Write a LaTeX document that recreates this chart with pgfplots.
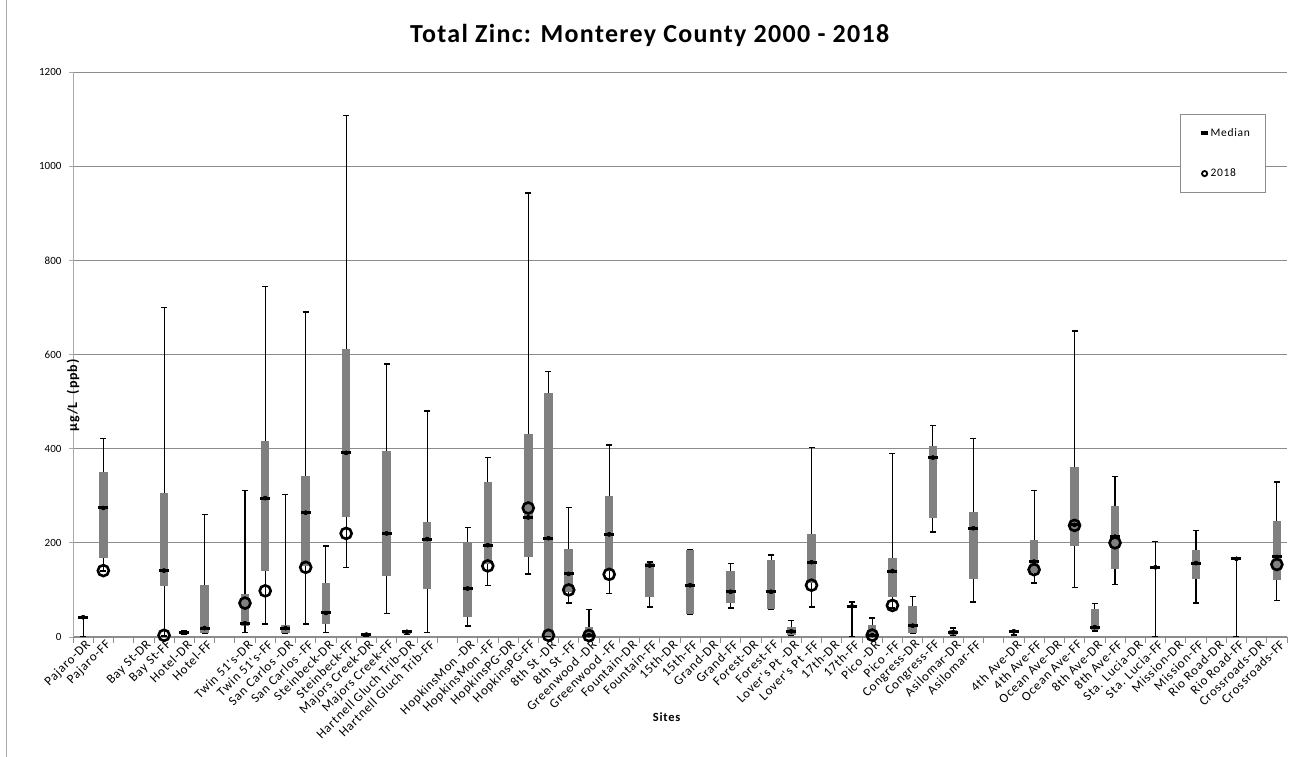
\documentclass[border=0pt]{standalone}
\usepackage{fontspec}
\setmainfont{Carlito}
\newfontfamily\labfont[LetterSpace=6]{Carlito}
\newfontfamily\titlefont[LetterSpace=5]{Carlito}
\usepackage{pgfplots}
\usepackage{pgfplotstable}
\pgfplotsset{compat=1.18}

\definecolor{boxgray}{RGB}{128,128,128}
\definecolor{gridgray}{RGB}{140,140,140}
\definecolor{axisgray}{RGB}{170,170,170}

% x = category slot, lo/hi = whisker ends, q1/q3 = box, y18 = 2018 value
\pgfplotstableread{
x   lo    q1    med   q3    hi     y18
1   0     41    42    42    42     nan
2   140   167   274   350   422    141
5   2     108   141   306   700    3.6
6   5     6     10    13    14     nan
7   8     9     19    110   260    nan
9   9     23    29    92    311    72
10  28    141   295   417   744    98
11  8     9     19    25    303    nan
12  28    150   264   342   690    148
13  9     27    51    115   193    nan
14  148   254   391   611   1107   220
15  2     3     5     7     8      nan
16  50    129   220   394   580    nan
17  6     7     11    13    14     nan
18  9     101   208   245   480    nan
20  23    42    103   202   232    nan
21  110   155   195   330   381    151
23  134   170   254   431   943    274
24  0     2     210   518   564    3.6
25  72    95    134   186   275    100
26  0     1     4     22    58     3
27  92    140   218   299   408    133
29  64    84    152   157   159    nan
31  48    48    110   184   185    nan
33  62    73    96    140   156    nan
35  59    60    96    164   174    nan
36  3     4     12    22    35     nan
37  64    115   159   219   403    110
39  0     65    65    65    74     nan
40  0     1     4     25    40     4
41  62    85    140   168   390    67
42  8     9     24    65    86     nan
43  223   252   381   406   449    nan
44  4     5     10    15    19     nan
45  74    124   231   265   422    nan
47  4     11    12    12    12     nan
48  115   135   160   205   311    143
50  105   194   238   360   650    237
51  13    14    21    60    71     nan
52  111   145   213   278   341    200
54  0     148   148   148   203    nan
56  72    124   157   184   226    nan
58  0     166   166   166   166    nan
60  78    120   170   247   329    154
}\zinc

\begin{document}
\begin{tikzpicture}
\useasboundingbox (0,0) rectangle (1299pt,757pt);
\draw[axisgray, line width=1pt] (6pt,0) -- (6pt,757pt);
\begin{axis}[
  at={(73pt,120pt)}, anchor=south west,
  scale only axis, width=1214pt, height=565pt,
  xmin=0.5, xmax=60.5, ymin=0, ymax=1200,
  axis x line*=bottom, axis y line*=left,
  axis line style={-},
  x axis line style={gridgray, line width=1pt},
  y axis line style={axisgray, line width=1pt},
  ytick={0,200,...,1200},
  ymajorgrids, grid style={gridgray, line width=0.9pt},
  tick align=outside,
  ytick style={axisgray, line width=0.8pt},
  major tick length=4pt,
  xtick={1,...,60},
  major x tick style={draw=none},
  minor xtick={0.5,1.5,...,60.5},
  minor x tick style={gridgray, line width=0.8pt},
  minor tick length=6pt,
  xticklabels={Pajaro-DR,Pajaro-FF,{},Bay St-DR,Bay St-FF,Hotel-DR,Hotel-FF,{},
    Twin 51's-DR,Twin 51's-FF,San Carlos -DR,San Carlos -FF,Steinbeck-DR,Steinbeck-FF,
    Majors Creek-DR,Majors Creek-FF,Hartnell Gluch Trib-DR,Hartnell Gluch Trib-FF,{},
    HopkinsMon -DR,HopkinsMon -FF,HopkinsPG-DR,HopkinsPG-FF,8th St -DR,8th St -FF,
    Greenwood -DR,Greenwood -FF,Fountain-DR,Fountain-FF,15th-DR,15th-FF,Grand-DR,Grand-FF,
    Forest-DR,Forest-FF,Lover's Pt -DR,Lover's Pt -FF,17th-DR,17th-FF,Pico -DR,Pico -FF,
    Congress-DR,Congress-FF,Asilomar-DR,Asilomar-FF,{},4th Ave-DR,4th Ave-FF,
    Ocean Ave-DR,Ocean Ave-FF,8th Ave-DR,8th Ave-FF,Sta. Lucia-DR,Sta. Lucia-FF,
    Mission-DR,Mission-FF,Rio Road-DR,Rio Road-FF,Crossroads-DR,Crossroads-FF},
  xticklabel style={font=\labfont\fontsize{13}{15}\selectfont, rotate=45, anchor=east, xshift=6pt, yshift=-5pt},
  yticklabel style={font=\fontsize{11}{13}\selectfont, xshift=-4pt},
  /pgf/number format/assume math mode=true,
  /pgf/number format/1000 sep={},
  title={\titlefont\bfseries\fontsize{26}{30}\selectfont Total Zinc: Monterey County 2000 - 2018},
  title style={at={(axis description cs:0.475,1)}, anchor=center, yshift=31pt},
  xlabel={\labfont\bfseries\fontsize{12.5}{14}\selectfont Sites},
  xlabel style={at={(axis description cs:0.489,0)}, anchor=center, yshift=-80pt},
  ylabel={\labfont\bfseries\fontsize{14}{16}\selectfont µg/L\ \ (ppb)},
  ylabel style={at={(axis description cs:0,0.5)}, anchor=center, xshift=-41pt},
  legend style={at={(axis description cs:0.912,0.9257)}, anchor=north west,
    draw=gridgray, line width=0.9pt, font=\labfont\fontsize{11.5}{13}\selectfont,
    row sep=27pt, inner xsep=14pt, inner ysep=12pt},
  legend cell align=left,
]
% whiskers (min to max)
\addplot[forget plot, only marks, mark=none,
  error bars/.cd, y dir=both, y explicit, error mark=-,
  error mark options={rotate=90, black, mark size=3pt, line width=1.4pt},
  error bar style={black, line width=1.1pt}]
  table[x=x, y=med, y error plus expr=\thisrow{hi}-\thisrow{med},
        y error minus expr=\thisrow{med}-\thisrow{lo}] {\zinc};
% boxes (q1 to q3)
\addplot[forget plot, only marks, mark=none,
  error bars/.cd, y dir=both, y explicit, error mark=none,
  error bar style={boxgray, line width=8.5pt}]
  table[x=x, y=med, y error plus expr=\thisrow{q3}-\thisrow{med},
        y error minus expr=\thisrow{med}-\thisrow{q1}] {\zinc};
% medians
\addplot[only marks, mark=-, mark size=5pt, mark options={black, line width=3pt},
  legend image code/.code={\path[draw=none, fill=none] (0,-2pt) rectangle (14pt,2pt); \fill[black] (7pt,-1.4pt) rectangle (13pt,1.4pt);}]
  table[x=x, y=med] {\zinc};
\addlegendentry{Median}
% 2018 values
\addplot[only marks, mark=o, mark size=5.5pt, mark options={draw=black, fill=none, line width=2.6pt},
  legend image code/.code={\path[draw=none, fill=none] (0,-2pt) rectangle (14pt,2pt); \draw[black, line width=1.8pt] (10pt,0) circle (2.6pt);}]
  table[x=x, y=y18] {\zinc};
\addlegendentry{2018}
\end{axis}
\end{tikzpicture}
\end{document}
